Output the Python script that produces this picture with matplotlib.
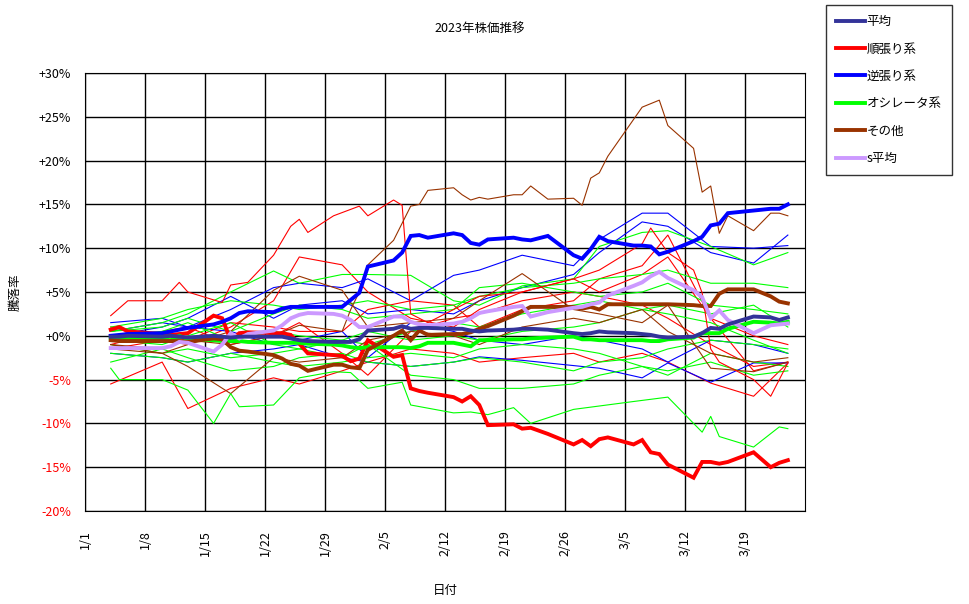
import datetime as dt
import matplotlib
matplotlib.use("Agg")
import matplotlib.pyplot as plt

plt.rcParams['font.family'] = ['Noto Sans CJK JP', 'DejaVu Sans']

# trading days (2023) used by the bold average lines
days = ["1/4", "1/5", "1/6", "1/10", "1/11", "1/12", "1/13", "1/16", "1/17", "1/18", "1/19", "1/20",
        "1/23", "1/24", "1/25", "1/26", "1/27", "1/30", "1/31", "2/1", "2/2", "2/3", "2/6", "2/7",
        "2/8", "2/9", "2/10", "2/13", "2/14", "2/15", "2/16", "2/17", "2/20", "2/21", "2/22", "2/24",
        "2/27", "2/28", "3/1", "3/2", "3/3", "3/6", "3/7", "3/8", "3/9", "3/10", "3/13", "3/14",
        "3/15", "3/16", "3/17", "3/20", "3/22", "3/23", "3/24"]

avg_all = [-0.1, -0.1, 0.0, -0.1, 0.0, -0.1, -0.2, 0.0, -0.1, -0.2, -0.1, -0.1,
           -0.1, -0.1, -0.3, -0.5, -0.6, -0.7, -0.7, -0.7, -0.4, 0.6, 0.8, 1.1,
           0.8, 0.9, 0.9, 0.8, 0.8, 0.6, 0.5, 0.6, 0.7, 0.8, 0.8, 0.7,
           0.3, 0.2, 0.3, 0.5, 0.4, 0.3, 0.2, 0.1, -0.1, -0.2, -0.1, 0.3,
           0.9, 0.8, 1.3, 2.2, 2.1, 1.8, 2.1]
avg_trend = [0.7, 1.0, 0.5, 0.2, 0.1, 0.2, 0.3, 2.3, 2.0, -0.5, 0.3, 0.4,
             0.3, 0.3, 0.1, -0.9, -2.0, -2.2, -2.3, -2.9, -2.6, -0.5, -2.4, -2.2,
             -6.0, -6.3, -6.5, -7.0, -7.5, -6.9, -7.9, -10.2, -10.1, -10.6, -10.5, -11.2,
             -12.4, -11.9, -12.6, -11.8, -11.6, -12.4, -11.9, -13.3, -13.5, -14.7, -16.2, -14.4,
             -14.4, -14.6, -14.4, -13.3, -15.0, -14.5, -14.2]
avg_contra = [0.0, 0.1, 0.2, 0.3, 0.5, 0.7, 0.9, 1.3, 1.6, 2.0, 2.6, 2.8,
              2.7, 3.1, 3.3, 3.3, 3.3, 3.3, 3.3, 4.1, 4.9, 7.9, 8.6, 9.5,
              11.4, 11.5, 11.2, 11.7, 11.5, 10.6, 10.4, 11.0, 11.2, 11.0, 10.9, 11.4,
              9.2, 8.8, 9.9, 11.3, 10.8, 10.3, 10.3, 10.2, 9.3, 9.6, 10.8, 11.3,
              12.6, 12.8, 14.0, 14.3, 14.5, 14.5, 15.0]
avg_osc = [-0.3, -0.3, -0.3, -0.4, -0.5, 0.0, -0.4, -0.5, -0.6, -0.6, -0.6, -0.7,
           -0.8, -0.8, -0.8, -0.8, -0.9, -1.0, -1.1, -1.3, -1.4, -1.3, -1.3, -1.3,
           -1.4, -1.2, -0.8, -0.8, -1.0, -1.2, -0.5, -0.5, -0.4, -0.4, -0.3, -0.2,
           -0.1, -0.4, -0.4, -0.5, -0.5, -0.5, -0.5, -0.6, -0.6, -0.4, -0.2, 0.3,
           0.3, 0.3, 0.8, 1.6, 1.5, 1.4, 1.6]
avg_other = [-0.5, -0.6, -0.6, -0.6, -0.6, -0.6, -0.7, -0.3, -0.4, -1.3, -1.7, -1.8,
             -2.2, -2.6, -3.2, -3.4, -4.0, -3.3, -3.3, -3.6, -3.7, -1.6, 0.0, 0.6,
             -0.5, 0.6, 0.1, 0.2, 0.2, 0.4, 0.8, 1.1, 2.3, 2.8, 3.3, 3.3,
             3.3, 3.1, 3.3, 3.0, 3.6, 3.6, 3.6, 3.6, 3.6, 3.6, 3.5, 3.4,
             3.4, 4.8, 5.3, 5.3, 4.5, 3.9, 3.7]
avg_s = [-1.4, -1.4, -1.4, -1.4, -1.2, -0.7, -0.8, -1.8, -1.0, 0.3, -0.3, 0.2,
         0.6, 1.2, 2.0, 2.4, 2.6, 2.5, 2.3, 1.8, 1.0, 1.0, 2.2, 2.2,
         1.6, 1.3, 1.2, 1.4, 1.6, 2.0, 2.6, 2.8, 3.3, 3.4, 2.2, 2.7,
         3.2, 3.3, 3.6, 3.8, 4.6, 5.7, 6.1, 6.8, 7.3, 6.6, 5.2, 4.4,
         2.0, 2.9, 1.8, 0.3, 1.2, 1.3, 1.4]

# individual stocks, read at every few trading days
anchor_days = ["1/4", "1/10", "1/13", "1/18", "1/23", "1/26", "1/31", "2/3", "2/8", "2/13",
               "2/16", "2/21", "2/27", "3/2", "3/7", "3/10", "3/15", "3/20", "3/24"]

red_r2 = [-1.5, -0.5, -1.0, 1.0, 4.0, 9.0, 8.1, 5.0, 2.0, 1.0, 3.0, 5.0, 6.5, 5.0, 7.0, 9.0, 2.0, 0.0, -1.0]
red_r3 = [-5.5, -3.0, -8.3, -6.0, -4.8, -5.5, -4.0, -3.0, -1.5, -2.0, -3.0, -2.5, -2.0, -3.0, -2.0, -3.0, -5.4, -6.9, -3.1]
red_r4 = [-1.0, 0.5, 1.0, -1.0, 0.0, 1.5, -2.0, -4.5, 0.5, 2.0, 2.5, 4.0, 5.0, 4.5, 3.5, 2.0, -1.0, -3.5, -3.0]
red_r5 = [1.0, 0.0, -0.5, 1.5, 1.0, 0.5, 0.5, 3.0, 4.0, 3.5, 1.0, 3.0, 4.0, 6.5, 8.0, 11.5, 2.0, -4.0, -3.0]
blue_b1 = [0.5, 1.5, 1.0, 3.0, 5.5, 6.0, 5.5, 6.5, 4.0, 6.9, 7.5, 9.2, 8.0, 11.0, 14.0, 14.0, 10.2, 10.0, 10.3]
blue_b2 = [0.0, 1.0, 2.0, 4.5, 2.0, 3.5, 4.0, 2.5, 3.0, 2.5, 4.0, 5.5, 7.0, 9.5, 13.0, 12.5, 9.5, 8.3, 11.5]
blue_b3 = [-2.0, -2.5, -3.0, -2.0, -1.5, -1.0, -2.5, -3.0, -3.5, -3.0, -2.4, -2.8, -3.4, -3.7, -4.8, -3.1, -5.3, -3.1, -3.1]
blue_b4 = [1.5, 2.0, 1.0, 0.5, -1.0, -0.5, 0.5, -2.5, 1.5, 0.5, -0.5, -1.0, 0.0, -0.5, -1.5, -3.0, -0.5, -1.0, -2.0]
green_g2 = [1.0, 2.0, 3.0, 4.0, 3.5, 3.0, 3.5, 4.0, 3.0, 3.5, 4.5, 5.5, 6.0, 6.5, 7.0, 7.5, 6.0, 6.0, 5.5]
green_g3 = [0.5, 1.5, 2.5, 5.0, 7.4, 6.0, 7.0, 7.0, 6.9, 4.0, 3.5, 5.7, 6.5, 10.2, 11.8, 12.0, 10.2, 8.1, 9.5]
green_g4 = [-1.0, -2.0, -1.5, -2.5, -2.0, -1.5, -0.5, -1.0, 0.5, 1.5, 1.0, 2.5, 3.5, 4.0, 3.0, 2.5, 1.5, -0.5, -2.0]
green_g5 = [-2.0, -2.5, -3.0, -2.0, -3.0, -3.5, -3.0, -2.5, -2.0, -2.5, -1.5, -1.0, -1.5, -2.0, -3.5, -4.0, -3.0, -4.5, -4.0]
green_g6 = [0.5, 1.0, 2.0, 0.5, 2.5, 3.5, 3.0, 2.0, 2.5, 3.0, 5.5, 6.0, 5.0, 4.5, 5.0, 6.0, 3.5, 3.0, 2.5]
green_g7 = [-3.0, -1.5, -2.5, -4.0, -3.5, -2.5, -2.0, -3.0, -3.5, -3.0, -2.5, -3.0, -4.0, -3.0, -2.5, -1.5, -0.5, -1.0, -1.5]
green_g8 = [0.0, 0.5, 1.5, -0.5, 0.5, 0.0, -0.5, 0.5, -0.5, 0.0, -0.5, 0.5, 1.0, 1.5, 3.0, 3.5, 2.5, 3.5, 1.0]
green_g9 = [-0.5, -1.0, 0.0, 1.5, -1.0, -1.5, -2.5, -1.0, -4.5, -5.0, -6.0, -6.0, -5.5, -4.5, -3.5, -4.5, -2.0, -3.0, -3.5]
brown_br2 = [-1.5, -2.0, -1.0, 0.5, 5.2, 6.8, 5.2, 1.0, 1.5, 2.0, 4.0, 7.1, 3.0, 2.5, 1.5, 3.5, -3.7, -4.1, -3.0]
brown_br3 = [-1.0, -2.0, -3.5, -6.6, -2.5, -3.0, -2.5, -0.5, 0.5, 0.0, -1.0, 1.0, 2.0, 1.5, 3.0, 0.5, -2.0, -3.0, -2.5]

# outlier stocks with their own dates
red_r1_days = ["1/4", "1/6", "1/10", "1/12", "1/13", "1/17", "1/18", "1/20", "1/23", "1/25", "1/26",
               "1/27", "1/30", "2/2", "2/3", "2/6", "2/7", "2/8", "2/10", "2/13", "2/16", "2/21",
               "2/27", "3/2", "3/7", "3/8", "3/10", "3/13", "3/14", "3/15", "3/16", "3/20", "3/22", "3/24"]
red_r1 = [2.3, 4.0, 4.0, 6.1, 5.0, 3.8, 5.8, 6.1, 9.2, 12.5, 13.3,
          11.8, 13.7, 14.8, 13.7, 15.5, 14.9, 2.5, 1.5, 3.0, 4.5, 5.0,
          6.5, 7.5, 10.5, 12.3, 9.5, 7.5, 4.9, -1.5, -3.0, -5.0, -6.9, -3.1]
green_g1_days = ["1/4", "1/5", "1/10", "1/13", "1/16", "1/18", "1/19", "1/23", "1/26", "1/30",
                 "2/1", "2/3", "2/7", "2/8", "2/13", "2/15", "2/17", "2/20", "2/22", "2/27",
                 "3/6", "3/10", "3/14", "3/15", "3/16", "3/20", "3/23", "3/24"]
green_g1 = [-3.7, -5.0, -5.0, -6.2, -10.0, -6.6, -8.1, -7.9, -4.8, -4.1,
            -4.2, -6.0, -5.3, -7.9, -8.8, -8.7, -9.0, -8.2, -10.0, -8.4,
            -7.5, -7.0, -11.0, -9.2, -11.5, -12.7, -10.4, -10.6]
brown_br1_days = ["1/4", "1/10", "1/13", "1/18", "1/23", "1/26", "1/31", "2/1", "2/2", "2/3",
                  "2/6", "2/8", "2/9", "2/10", "2/13", "2/14", "2/15", "2/16", "2/17", "2/20",
                  "2/21", "2/22", "2/24", "2/27", "2/28", "3/1", "3/2", "3/3", "3/6", "3/7",
                  "3/8", "3/9", "3/10", "3/13", "3/14", "3/15", "3/16", "3/17", "3/20", "3/22",
                  "3/23", "3/24"]
brown_br1 = [-1.0, -1.5, -0.5, -1.0, 0.0, 1.2, 0.5, 3.0, 5.0, 8.1,
             10.9, 14.8, 15.0, 16.6, 16.9, 16.1, 15.5, 15.8, 15.6, 16.1,
             16.1, 17.1, 15.6, 15.7, 14.9, 18.0, 18.6, 20.5, 24.7, 26.1,
             26.5, 26.9, 24.0, 21.4, 16.4, 17.1, 11.7, 13.7, 12.0, 14.0,
             14.0, 13.7]

RED, BLUE, GREEN, BROWN = "#ff0000", "#0000ff", "#00ff00", "#993300"
NAVY, LILAC = "#333399", "#cc99ff"


def to_dates(labels):
    out = []
    for s in labels:
        m, d = s.split("/")
        out.append(dt.date(2023, int(m), int(d)))
    return out


fig = plt.figure(figsize=(9.7, 6.04), dpi=100)
ax = fig.add_axes([85 / 970, 1 - 511 / 604, 720 / 970, 438 / 604])

x_anchor = to_dates(anchor_days)
thin = [(red_r2, RED), (red_r3, RED), (red_r4, RED), (red_r5, RED),
        (blue_b1, BLUE), (blue_b2, BLUE), (blue_b3, BLUE), (blue_b4, BLUE),
        (green_g2, GREEN), (green_g3, GREEN), (green_g4, GREEN), (green_g5, GREEN),
        (green_g6, GREEN), (green_g7, GREEN), (green_g8, GREEN), (green_g9, GREEN),
        (brown_br2, BROWN), (brown_br3, BROWN)]
for vals, c in thin:
    ax.plot(x_anchor, vals, color=c, lw=0.8)
ax.plot(to_dates(red_r1_days), red_r1, color=RED, lw=0.8)
ax.plot(to_dates(green_g1_days), green_g1, color=GREEN, lw=0.8)
ax.plot(to_dates(brown_br1_days), brown_br1, color=BROWN, lw=0.8)

x = to_dates(days)
bold = [(avg_trend, RED, "順張り系"), (avg_contra, BLUE, "逆張り系"), (avg_osc, GREEN, "オシレータ系"),
        (avg_other, BROWN, "その他"), (avg_s, LILAC, "s平均"), (avg_all, NAVY, "平均")]
handles = {}
for vals, c, name in bold:
    handles[name] = ax.plot(x, vals, color=c, lw=2.8, solid_joinstyle="miter")[0]

ax.set_xlim(dt.date(2023, 1, 1), dt.date(2023, 3, 26))
ax.set_ylim(-20, 30)
ticks = [dt.date(2023, 1, 1) + dt.timedelta(days=7 * i) for i in range(12)]
ax.set_xticks(ticks)
ax.set_xticklabels([f"{t.month}/{t.day}" for t in ticks], rotation=90, va="top", fontsize=9)
yt = list(range(-20, 35, 5))
ax.set_yticks(yt)
ax.set_yticklabels([f"+{v}%" if v >= 0 else f"-{-v}%" for v in yt], fontsize=9)
for lab, v in zip(ax.get_yticklabels(), yt):
    if v < 0:
        lab.set_color("red")
ax.tick_params(axis="x", length=0, pad=14)
ax.tick_params(axis="y", length=0, pad=10)
ax.grid(True, color="black", lw=1)
ax.set_axisbelow(True)
for sp in ax.spines.values():
    sp.set_color("black")

ax.set_xlabel("日付", fontsize=9, labelpad=20)
ax.set_ylabel("騰落率", fontsize=9, labelpad=12)
fig.text(0.495, 0.953, "2023年株価推移", ha="center", va="center", fontsize=9)

order = ["平均", "順張り系", "逆張り系", "オシレータ系", "その他", "s平均"]
leg = fig.legend([handles[k] for k in order], order, loc="upper left",
                 bbox_to_anchor=(826 / 970, 1 - 5 / 604), fontsize=9, frameon=True,
                 fancybox=False, edgecolor="black", handlelength=2.3, labelspacing=1.15,
                 handletextpad=0.15, borderpad=0.8, borderaxespad=0)
leg.get_frame().set_linewidth(1)

fig.savefig("out.png", dpi=100)
